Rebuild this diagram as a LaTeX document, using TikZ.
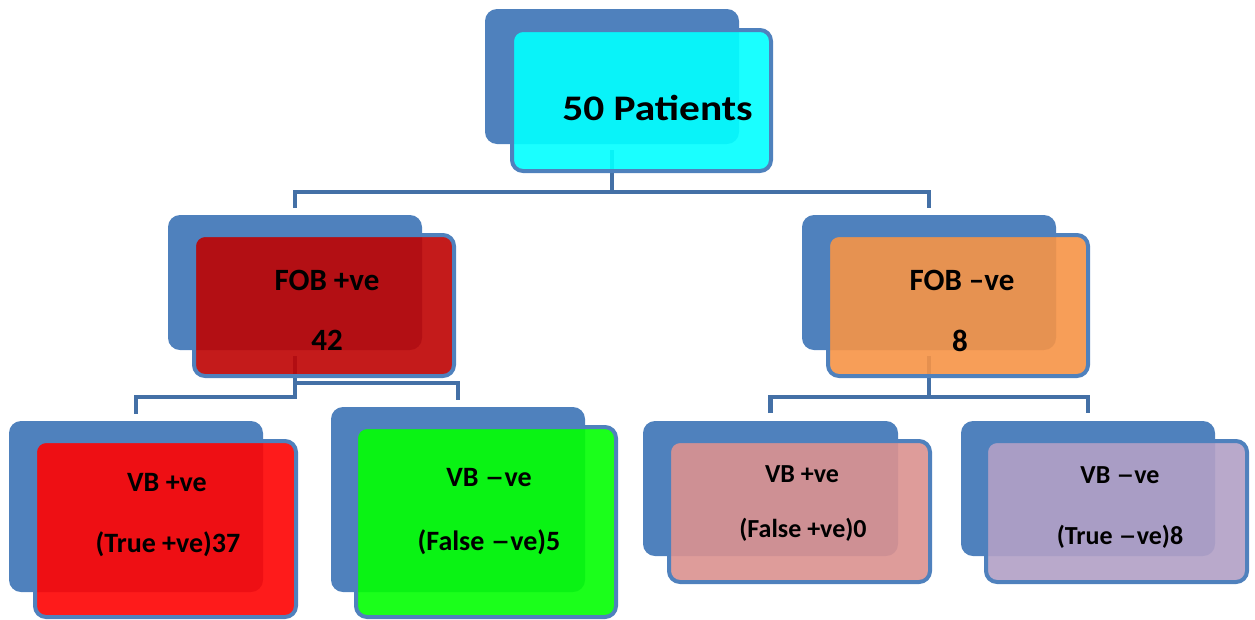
\documentclass[tikz,border=0pt]{standalone}
\usepackage{fontspec}
\setmainfont{Carlito}
\usetikzlibrary{calc}
\definecolor{shadowblue}{RGB}{79,129,189}
\definecolor{connblue}{RGB}{68,112,166}
\definecolor{cyanf}{RGB}{3,255,255}
\definecolor{redA}{RGB}{190,4,4}
\definecolor{orangeA}{RGB}{246,148,71}
\definecolor{redB}{RGB}{254,4,4}
\definecolor{greenA}{RGB}{4,255,4}
\definecolor{pinkA}{RGB}{219,146,144}
\definecolor{lavA}{RGB}{178,160,198}
\newcommand{\wdash}{\scalebox{1.4}[1]{–}}
\tikzset{
  shadowbox/.style={rectangle, fill=shadowblue, rounded corners=12pt, outer sep=0pt, inner sep=0pt},
  frontbox/.style={rectangle, draw=shadowblue, line width=4pt, rounded corners=11pt, fill opacity=0.91, outer sep=0pt, inner sep=0pt},
  conn/.style={draw=connblue, line width=4.5pt},
  txt/.style={anchor=base, inner sep=0pt, text=black, font=\bfseries},
}
\begin{document}
\begin{tikzpicture}[x=1pt,y=-1pt]
\useasboundingbox (0,0) rectangle (1255,619);
% shadows
\node[shadowbox, minimum width=254pt, minimum height=135pt] (s0) at (612,76.5) {};
\node[shadowbox, minimum width=254pt, minimum height=135pt] (s1) at (295,282.5) {};
\node[shadowbox, minimum width=254pt, minimum height=135pt] (s2) at (929,282.5) {};
\node[shadowbox, minimum width=254pt, minimum height=171pt] (s3) at (136,506.5) {};
\node[shadowbox, minimum width=254pt, minimum height=185pt] (s4) at (458,499.5) {};
\node[shadowbox, minimum width=255pt, minimum height=135pt] (s5) at (770.5,488.5) {};
\node[shadowbox, minimum width=254pt, minimum height=135pt] (s6) at (1088,488.5) {};
% connectors
\coordinate (j0) at ($(s0.south)+(0,48)$);
\draw[conn] ($(s0.south)+(0,6)$) -- (j0);
\draw[conn] ($(s1.north)+(0,-7)$) |- (j0) -| ($(s2.north)+(0,-7)$);
\coordinate (j1) at ($(s1.south)+(0,47)$);
\coordinate (j1b) at ($(s1.south)+(0,33)$);
\draw[conn] ($(s1.south)+(0,6)$) -- (j1) -| ($(s3.north)+(0,-7)$);
\draw[conn] (j1b) -| ($(s4.north)+(0,-7)$);
\coordinate (j2) at ($(s2.south)+(0,47)$);
\draw[conn] ($(s2.south)+(0,6)$) -- (j2);
\draw[conn] ($(s5.north)+(0,-8)$) |- (j2) -| ($(s6.north)+(0,-8)$);
% front boxes
\node[frontbox, fill=cyanf, minimum width=259pt, minimum height=141pt] (f0) at (641.5,100.5) {};
\node[frontbox, fill=redA, minimum width=260pt, minimum height=141pt] (f1) at (324,305.5) {};
\node[frontbox, fill=orangeA, minimum width=260pt, minimum height=141pt] (f2) at (958,305.5) {};
\node[frontbox, fill=redB, minimum width=261pt, minimum height=176pt] (f3) at (165.5,529) {};
\node[frontbox, fill=greenA, minimum width=260pt, minimum height=190pt] (f4) at (486,522) {};
\node[frontbox, fill=pinkA, minimum width=261pt, minimum height=141pt] (f5) at (799.5,511.5) {};
\node[frontbox, fill=lavA, minimum width=261pt, minimum height=141pt] (f6) at (1116.5,511.5) {};
% texts
\begin{scope}
\clip (500,60) rectangle (780,121);
\node[txt, font=\bfseries\fontsize{36pt}{40pt}\selectfont] (t0) at (657.5,120) {\scalebox{1.15}[1]{50 Patients}};
\end{scope}
\node[txt, font=\bfseries\fontsize{31pt}{36pt}\selectfont] (t1a) at (327,290) {FOB +ve};
\node[txt, font=\bfseries\fontsize{31pt}{36pt}\selectfont] (t1b) at (327,350) {42};
\node[txt, font=\bfseries\fontsize{31pt}{36pt}\selectfont] (t2a) at (962,290) {FOB –ve};
\node[txt, font=\bfseries\fontsize{31pt}{36pt}\selectfont] (t2b) at (960,351) {8};
\node[txt, font=\bfseries\fontsize{28pt}{32pt}\selectfont] (t3a) at (167,491) {VB +ve};
\node[txt, font=\bfseries\fontsize{28pt}{32pt}\selectfont] (t3b) at (168,552) {(True +ve)37};
\node[txt, font=\bfseries\fontsize{28pt}{32pt}\selectfont] (t4a) at (489,486) {VB \wdash ve};
\node[txt, font=\bfseries\fontsize{28pt}{32pt}\selectfont] (t4b) at (489,550) {(False \wdash ve)5};
\node[txt, font=\bfseries\fontsize{26pt}{30pt}\selectfont] (t5a) at (802,482) {VB +ve};
\node[txt, font=\bfseries\fontsize{26pt}{30pt}\selectfont] (t5b) at (803,537) {(False +ve)0};
\node[txt, font=\bfseries\fontsize{26pt}{30pt}\selectfont] (t6a) at (1120,483) {VB \wdash ve};
\node[txt, font=\bfseries\fontsize{26pt}{30pt}\selectfont] (t6b) at (1120,544) {(True \wdash ve)8};
\end{tikzpicture}
\end{document}
